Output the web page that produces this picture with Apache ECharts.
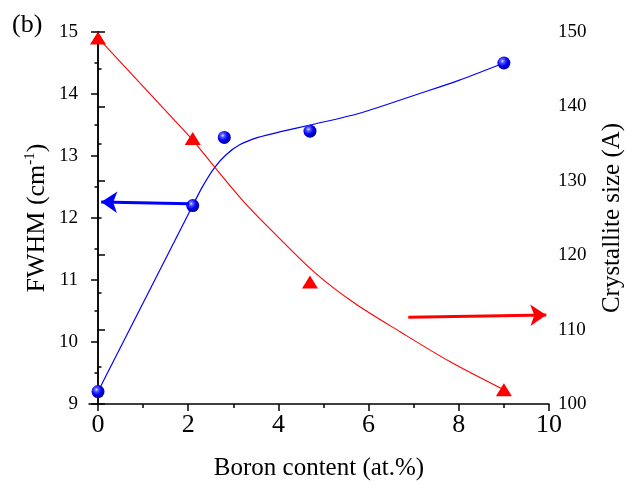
<!DOCTYPE html>
<html>
<head>
<meta charset="utf-8">
<script src="https://cdn.jsdelivr.net/npm/echarts@6/dist/echarts.min.js"></script>
<style>
html,body{margin:0;padding:0;background:#fff;}
#chart{width:635px;height:484px;}
</style>
</head>
<body>
<div id="chart"></div>
<script>
// Measured data (FWHM, left axis)
const boronFwhm = [0, 2.1, 2.8, 4.7, 9];
const fwhm = [9.2, 12.2, 13.3, 13.4, 14.5];
// Guide curve for FWHM: straight part, then curved part
const fwhmLineX = [0, 2.1];
const fwhmLineY = [9.2, 12.2];
const fwhmFitX = [2.1, 2.32, 2.58, 2.84, 3.14, 3.55, 4.1, 4.7, 5.8, 7.1, 8, 9];
const fwhmFitY = [12.2, 12.51, 12.81, 13.02, 13.18, 13.3, 13.4, 13.5, 13.69, 14.0, 14.22, 14.5];
// Measured data (crystallite size, right axis)
const boronSize = [0, 2.1, 4.7, 9];
const crystSize = [149.2, 135.7, 116.4, 101.9];
// Guide curve for crystallite size: straight part, then curved part
const sizeLineX = [0, 2.1];
const sizeLineY = [149.2, 135.5];
const sizeFitX = [2.1, 3.2, 4, 4.8, 5.7, 6.7, 7.8, 9];
const sizeFitY = [135.5, 127.4, 122.4, 117.7, 113.5, 109.7, 105.7, 101.9];
// Arrows (tail -> tip), in data units
const blueArrowX = [2.02, 0.07];
const blueArrowY = [12.23, 12.26];
const redArrowX = [6.88, 9.94];
const redArrowY = [111.65, 111.96];
// Tick values
const xTicks = [0, 2, 4, 6, 8, 10];
const xMinorTicks = [1, 3, 5, 7, 9];

const zip = (a, b) => a.map((v, i) => [v, b[i]]);
const FONT = 'Liberation Serif';

const sphere = {
  type: 'radial', x: 0.38, y: 0.35, r: 0.65,
  colorStops: [
    {offset: 0, color: '#e8e8ff'},
    {offset: 0.22, color: '#5a5aff'},
    {offset: 0.6, color: '#0000f0'},
    {offset: 1, color: '#0000a8'}
  ]
};

const chart = echarts.init(document.getElementById('chart'), null, {renderer: 'canvas'});
const axisLine = {show: true, lineStyle: {color: '#000', width: 1.5}};

function guide(name, yIdx, data, color, width, smooth) {
  return {
    name: name, type: 'line', xAxisIndex: 0, yAxisIndex: yIdx,
    data: data, showSymbol: false, symbol: 'none', smooth: smooth,
    lineStyle: {color: color, width: width}, z: 2, silent: true
  };
}

chart.setOption({
  animation: false,
  backgroundColor: '#fff',
  textStyle: {fontFamily: FONT, color: '#000'},
  grid: {left: 89, right: 86, top: 32, bottom: 80, containLabel: false, outerBoundsMode: 'none'},
  graphic: [{
    type: 'text', left: 12, top: 12,
    style: {text: '(b)', font: '26px "Liberation Serif"', fill: '#000'}
  }],
  xAxis: [{
    type: 'value', min: -0.2, max: 10, position: 'bottom',
    name: 'Boron content (at.%)', nameLocation: 'middle', nameGap: 52, nameMoveOverlap: false,
    nameTextStyle: {fontFamily: FONT, fontSize: 25, color: '#000'},
    axisLine: axisLine,
    axisTick: {show: true, inside: false, length: 7, customValues: xTicks, lineStyle: {color: '#000', width: 1.5}},
    axisLabel: {show: true, customValues: xTicks, margin: 8, fontFamily: FONT, fontSize: 26, color: '#000'},
    splitLine: {show: false}
  }, {
    type: 'value', min: -0.2, max: 10, position: 'bottom',
    axisLine: {show: false},
    axisTick: {show: true, inside: false, length: 4, customValues: xMinorTicks, lineStyle: {color: '#000', width: 1.5}},
    axisLabel: {show: false},
    splitLine: {show: false}
  }],
  yAxis: [{
    type: 'value', min: 9, max: 15, interval: 1, position: 'left',
    name: 'FWHM (cm{sup|-1})', nameLocation: 'middle', nameGap: 38, nameRotate: 90, nameMoveOverlap: false,
    nameTextStyle: {fontFamily: FONT, fontSize: 26, color: '#000',
      rich: {sup: {fontFamily: FONT, fontSize: 15, verticalAlign: 'top', padding: [0, 0, 13, 0], color: '#000'}}},
    axisLine: axisLine,
    axisTick: {show: true, inside: false, length: 7, lineStyle: {color: '#000', width: 1.5}},
    minorTick: {show: true, splitNumber: 2, length: 3.5, lineStyle: {color: '#000', width: 1.5}},
    axisLabel: {margin: 11, fontFamily: FONT, fontSize: 19, color: '#000'},
    splitLine: {show: false}
  }, {
    type: 'value', min: 100, max: 150, interval: 10, position: 'right',
    name: 'Crystallite size (A)', nameLocation: 'middle', nameGap: 51, nameRotate: 90, nameMoveOverlap: false,
    nameTextStyle: {fontFamily: FONT, fontSize: 25, color: '#000'},
    axisLine: axisLine,
    axisTick: {show: true, inside: false, length: 7, lineStyle: {color: '#000', width: 1.5}},
    minorTick: {show: true, splitNumber: 2, length: 3.5, lineStyle: {color: '#000', width: 1.5}},
    axisLabel: {margin: 9, fontFamily: FONT, fontSize: 19, color: '#000'},
    splitLine: {show: false}
  }],
  series: [
    guide('FWHM line', 0, zip(fwhmLineX, fwhmLineY), '#0000ff', 1.2, false),
    guide('FWHM fit', 0, zip(fwhmFitX, fwhmFitY), '#0000ff', 1.2, 0.3),
    guide('Size line', 1, zip(sizeLineX, sizeLineY), '#ff0000', 1.1, false),
    guide('Size fit', 1, zip(sizeFitX, sizeFitY), '#ff0000', 1.1, 0.3),
  {
    name: 'FWHM', type: 'scatter', xAxisIndex: 0, yAxisIndex: 0,
    data: zip(boronFwhm, fwhm), symbol: 'circle', symbolSize: 13,
    itemStyle: {color: sphere, opacity: 1}, z: 4,
    markLine: {
      silent: true, animation: false,
      symbol: ['none', 'arrow'], symbolSize: 16,
      label: {show: false},
      lineStyle: {color: '#0000ff', width: 3, type: 'solid'},
      data: [[{coord: [blueArrowX[0], blueArrowY[0]]}, {coord: [blueArrowX[1], blueArrowY[1]]}]]
    }
  }, {
    name: 'Crystallite size', type: 'scatter', xAxisIndex: 0, yAxisIndex: 1,
    data: zip(boronSize, crystSize), symbol: 'triangle', symbolSize: [16, 13],
    itemStyle: {color: '#ff0000', opacity: 1}, z: 4,
    markLine: {
      silent: true, animation: false,
      symbol: ['none', 'arrow'], symbolSize: 16,
      label: {show: false},
      lineStyle: {color: '#ff0000', width: 3, type: 'solid'},
      data: [[{coord: [redArrowX[0], redArrowY[0]]}, {coord: [redArrowX[1], redArrowY[1]]}]]
    }
  }]
});
</script>
</body>
</html>
